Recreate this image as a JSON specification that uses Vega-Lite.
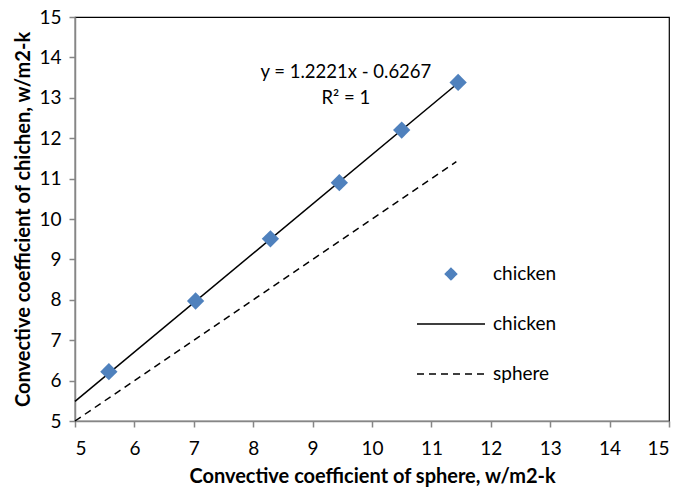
{
  "$schema": "https://vega.github.io/schema/vega-lite/v6.json",
  "width": 594,
  "height": 404,
  "autosize": {"type": "none"},
  "padding": {"left": 75, "top": 17, "right": 11, "bottom": 66},
  "background": "white",
  "config": {
    "font": "Lato",
    "view": {"stroke": "#000000", "strokeWidth": 1.2},
    "axis": {
      "grid": false,
      "domainColor": "#868686",
      "domainWidth": 1.5,
      "tickColor": "#868686",
      "tickWidth": 1.5,
      "tickSize": 6,
      "labelFont": "Lato",
      "labelFontSize": 19,
      "labelColor": "#000000",
      "titleFont": "Lato",
      "titleFontSize": 20,
      "titleFontWeight": "bold",
      "titleColor": "#000000"
    },
    "legend": {"labelFont": "Lato", "labelFontSize": 19, "labelColor": "#000000"}
  },
  "datasets": {
    "pts": [
      {"x": 5.57, "y": 6.22, "series": "chicken_pts"},
      {"x": 7.03, "y": 7.97, "series": "chicken_pts"},
      {"x": 8.29, "y": 9.51, "series": "chicken_pts"},
      {"x": 9.45, "y": 10.9, "series": "chicken_pts"},
      {"x": 10.5, "y": 12.2, "series": "chicken_pts"},
      {"x": 11.45, "y": 13.38, "series": "chicken_pts"}
    ],
    "fit": [
      {"x": 5.0, "y": 5.484, "series": "chicken_fit"},
      {"x": 11.45, "y": 13.366, "series": "chicken_fit"}
    ],
    "sphere": [
      {"x": 5.0, "y": 5.0, "series": "sphere"},
      {"x": 11.42, "y": 11.42, "series": "sphere"}
    ],
    "notes": [
      {"x": 9.56, "y": 13.64, "label": "y = 1.2221x - 0.6267"},
      {"x": 9.56, "y": 13.0, "label": "R² = 1"}
    ]
  },
  "encoding": {
    "x": {
      "field": "x", "type": "quantitative",
      "scale": {"domain": [5, 15], "nice": false, "zero": false},
      "axis": {"values": [5,6,7,8,9,10,11,12,13,14,15], "title": "Convective coefficient of sphere, w/m2-k", "labelPadding": 12, "titlePadding": 8}
    },
    "y": {
      "field": "y", "type": "quantitative",
      "scale": {"domain": [5, 15], "nice": false, "zero": false},
      "axis": {"values": [5,6,7,8,9,10,11,12,13,14,15], "title": "Convective coefficient of chichen, w/m2-k", "labelPadding": 8, "titlePadding": 5}
    }
  },
  "layer": [
    {
      "data": {"name": "sphere"},
      "mark": {"type": "line", "strokeDash": [7, 5], "strokeWidth": 1.5},
      "encoding": {
        "color": {"field": "series", "type": "nominal",
          "scale": {"domain": ["chicken_pts", "chicken_fit", "sphere"], "range": ["#4F81BD", "#000000", "#000000"]},
          "legend": {
            "orient": "none", "legendX": 341, "legendY": 222, "title": null, "padding": 0,
            "labelExpr": "datum.value == 'sphere' ? 'sphere' : 'chicken'",
            "symbolSize": 400, "rowPadding": 5, "labelOffset": 7,
            "encode": {
              "symbols": {
                "update": {
                  "shape": {"signal": "datum.value === 'chicken_pts' ? 'diamond' : 'stroke'"},
                  "size": {"signal": "datum.value === 'chicken_pts' ? 130 : 4624"},
                  "fill": {"signal": "datum.value === 'chicken_pts' ? '#4F81BD' : 'transparent'"},
                  "stroke": {"signal": "datum.value === 'chicken_pts' ? 'transparent' : '#000000'"},
                  "strokeWidth": {"value": 1.5},
                  "strokeDash": {"signal": "datum.value === 'sphere' ? [7, 5] : [1, 0]"},
                  "opacity": {"value": 1}
                }
              }
            }
          }
        }
      }
    },
    {
      "data": {"name": "fit"},
      "mark": {"type": "line", "strokeWidth": 1.5},
      "encoding": {"color": {"field": "series", "type": "nominal"}}
    },
    {
      "data": {"name": "pts"},
      "mark": {"type": "point", "shape": "diamond", "filled": true, "size": 300, "opacity": 1},
      "encoding": {"color": {"field": "series", "type": "nominal"}}
    },
    {
      "data": {"name": "notes"},
      "mark": {"type": "text", "font": "Lato", "fontSize": 18.5, "align": "center", "baseline": "middle", "color": "#000000"},
      "encoding": {"text": {"field": "label"}}
    }
  ]
}
